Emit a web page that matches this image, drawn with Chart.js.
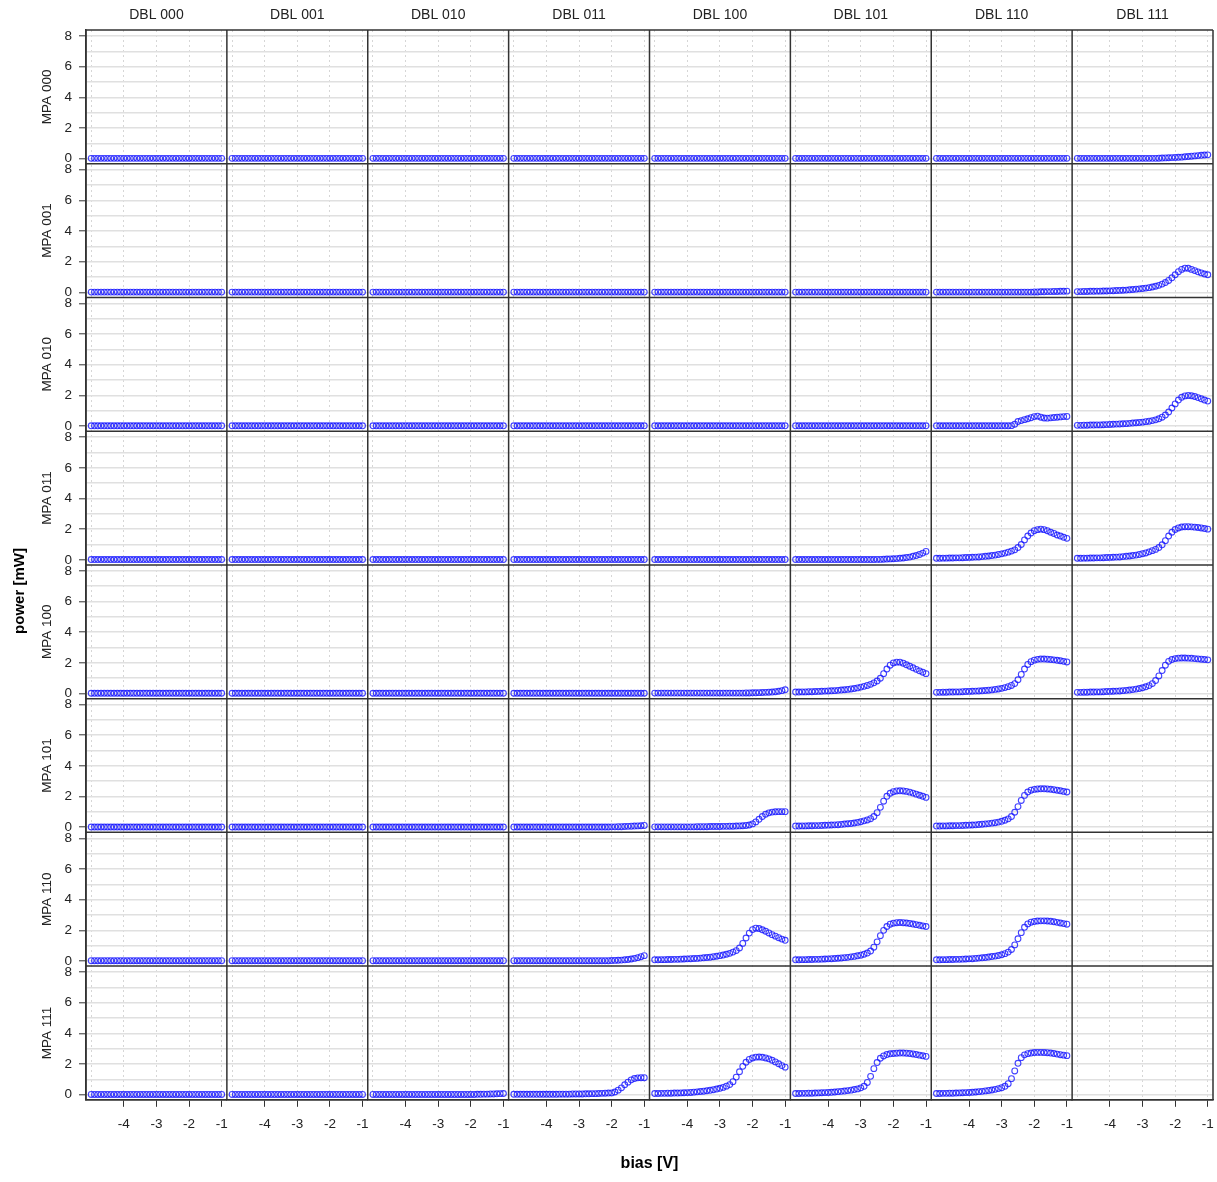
<!DOCTYPE html>
<html>
<head>
<meta charset="utf-8">
<script src="https://cdn.jsdelivr.net/npm/chart.js@4/dist/chart.umd.min.js"></script>
<style>
  html, body { margin: 0; padding: 0; background: #fff; }
</style>
</head>
<body>
<canvas id="lattice" width="1217" height="1182"></canvas>
<script>
var dblLabels = ['DBL 000', 'DBL 001', 'DBL 010', 'DBL 011', 'DBL 100', 'DBL 101', 'DBL 110', 'DBL 111'];
var mpaLabels = ['MPA 000', 'MPA 001', 'MPA 010', 'MPA 011', 'MPA 100', 'MPA 101', 'MPA 110', 'MPA 111'];

var bias = [-5.0, -4.9, -4.8, -4.7, -4.6, -4.5, -4.4, -4.3, -4.2, -4.1,
            -4.0, -3.9, -3.8, -3.7, -3.6, -3.5, -3.4, -3.3, -3.2, -3.1,
            -3.0, -2.9, -2.8, -2.7, -2.6, -2.5, -2.4, -2.3, -2.2, -2.1,
            -2.0, -1.9, -1.8, -1.7, -1.6, -1.5, -1.4, -1.3, -1.2, -1.1,
            -1.0];

var xGridVals = [-5, -4, -3, -2, -1];
var xTickLabels = [-4, -3, -2, -1];
var yGridVals = [0, 1, 2, 3, 4, 5, 6, 7, 8];
var yTickLabels = [0, 2, 4, 6, 8];

// power [mW] per panel, one value per bias step
var flat = [0.02,0.02,0.02,0.02,0.02,0.02,0.02,0.02,0.02,0.02,
            0.02,0.02,0.02,0.02,0.02,0.02,0.02,0.02,0.02,0.02,
            0.02,0.02,0.02,0.02,0.02,0.02,0.02,0.02,0.02,0.02,
            0.02,0.02,0.02,0.02,0.02,0.02,0.02,0.02,0.02,0.02,
            0.02];

var m000_d111 = [0.02,0.02,0.02,0.02,0.02,0.02,0.02,0.02,0.02,0.02,
                 0.02,0.02,0.02,0.02,0.02,0.02,0.02,0.02,0.02,0.02,
                 0.02,0.02,0.02,0.02,0.02,0.03,0.04,0.05,0.06,0.07,
                 0.08,0.09,0.10,0.12,0.14,0.16,0.18,0.20,0.22,0.24,
                 0.25];

var m001_d110 = [0.02,0.02,0.02,0.02,0.02,0.02,0.02,0.02,0.02,0.02,
                 0.02,0.02,0.02,0.02,0.02,0.02,0.02,0.02,0.02,0.02,
                 0.02,0.02,0.02,0.02,0.02,0.02,0.02,0.02,0.02,0.02,
                 0.03,0.03,0.04,0.04,0.05,0.05,0.06,0.06,0.07,0.07,
                 0.08];

var m001_d111 = [0.05,0.05,0.06,0.06,0.07,0.07,0.08,0.08,0.09,0.09,
                 0.10,0.11,0.12,0.13,0.14,0.15,0.17,0.19,0.21,0.23,
                 0.25,0.28,0.31,0.35,0.40,0.46,0.54,0.64,0.78,0.95,
                 1.15,1.35,1.50,1.58,1.57,1.50,1.42,1.34,1.27,1.20,
                 1.15];

var m010_d110 = [0.02,0.02,0.02,0.02,0.02,0.02,0.02,0.02,0.02,0.02,
                 0.02,0.02,0.02,0.02,0.02,0.02,0.02,0.02,0.02,0.02,
                 0.02,0.02,0.02,0.03,0.12,0.30,0.36,0.42,0.48,0.55,
                 0.62,0.65,0.58,0.53,0.52,0.54,0.56,0.58,0.60,0.62,
                 0.63];

var m010_d111 = [0.05,0.05,0.06,0.06,0.07,0.07,0.08,0.08,0.09,0.10,
                 0.11,0.12,0.13,0.14,0.15,0.16,0.18,0.20,0.22,0.24,
                 0.26,0.29,0.32,0.36,0.41,0.48,0.58,0.72,0.92,1.18,
                 1.45,1.70,1.88,1.97,2.00,1.98,1.93,1.86,1.78,1.70,
                 1.63];

var m011_d101 = [0.02,0.02,0.02,0.02,0.02,0.02,0.02,0.02,0.02,0.02,
                 0.02,0.02,0.02,0.02,0.02,0.02,0.02,0.02,0.02,0.02,
                 0.02,0.02,0.02,0.02,0.02,0.03,0.03,0.04,0.05,0.06,
                 0.07,0.08,0.10,0.12,0.15,0.18,0.23,0.28,0.35,0.44,
                 0.55];

var m011_d110 = [0.10,0.10,0.11,0.11,0.12,0.12,0.13,0.13,0.14,0.15,
                 0.16,0.17,0.18,0.19,0.21,0.23,0.25,0.28,0.31,0.35,
                 0.39,0.44,0.50,0.57,0.65,0.80,1.00,1.30,1.55,1.75,
                 1.90,1.97,2.00,1.97,1.90,1.80,1.72,1.62,1.55,1.47,
                 1.40];

var m011_d111 = [0.10,0.10,0.11,0.11,0.12,0.12,0.13,0.13,0.14,0.15,
                 0.16,0.17,0.18,0.19,0.21,0.23,0.25,0.28,0.31,0.35,
                 0.40,0.45,0.52,0.60,0.68,0.80,0.98,1.25,1.55,1.80,
                 1.98,2.08,2.14,2.16,2.16,2.15,2.13,2.11,2.08,2.04,
                 2.00];

var m100_d100 = [0.03,0.03,0.03,0.03,0.03,0.03,0.03,0.03,0.03,0.03,
                 0.03,0.03,0.03,0.03,0.03,0.03,0.03,0.03,0.03,0.03,
                 0.03,0.03,0.03,0.03,0.03,0.03,0.03,0.03,0.04,0.04,
                 0.05,0.05,0.06,0.07,0.08,0.09,0.10,0.12,0.15,0.19,
                 0.25];

var m100_d101 = [0.10,0.10,0.11,0.11,0.12,0.12,0.13,0.14,0.15,0.16,
                 0.17,0.18,0.19,0.21,0.23,0.25,0.27,0.30,0.33,0.37,
                 0.42,0.47,0.53,0.60,0.70,0.82,1.00,1.30,1.60,1.85,
                 2.00,2.05,2.05,1.98,1.88,1.78,1.68,1.58,1.48,1.39,
                 1.30];

var m100_d110 = [0.08,0.08,0.09,0.09,0.10,0.10,0.11,0.11,0.12,0.13,
                 0.14,0.15,0.16,0.17,0.18,0.20,0.22,0.24,0.27,0.30,
                 0.34,0.39,0.45,0.53,0.65,0.90,1.25,1.60,1.90,2.08,
                 2.18,2.23,2.25,2.25,2.24,2.22,2.20,2.17,2.14,2.10,
                 2.06];

var m100_d111 = [0.08,0.08,0.09,0.09,0.10,0.10,0.11,0.11,0.12,0.13,
                 0.14,0.15,0.16,0.17,0.19,0.21,0.23,0.26,0.29,0.33,
                 0.38,0.44,0.52,0.65,0.85,1.15,1.50,1.85,2.10,2.22,
                 2.28,2.31,2.32,2.32,2.31,2.30,2.28,2.26,2.24,2.22,
                 2.20];

var m101_d011 = [0.02,0.02,0.02,0.02,0.02,0.02,0.02,0.02,0.02,0.02,
                 0.02,0.02,0.02,0.02,0.02,0.02,0.02,0.02,0.02,0.02,
                 0.02,0.02,0.02,0.02,0.02,0.02,0.02,0.02,0.02,0.02,
                 0.03,0.03,0.04,0.04,0.05,0.06,0.07,0.08,0.09,0.10,
                 0.12];

var m101_d100 = [0.03,0.03,0.03,0.03,0.03,0.03,0.03,0.03,0.03,0.03,
                 0.03,0.03,0.03,0.04,0.04,0.04,0.04,0.05,0.05,0.05,
                 0.05,0.06,0.06,0.07,0.07,0.08,0.09,0.10,0.12,0.15,
                 0.22,0.35,0.52,0.70,0.85,0.94,0.99,1.01,1.02,1.02,
                 1.02];

var m101_d101 = [0.08,0.08,0.09,0.09,0.10,0.10,0.11,0.11,0.12,0.13,
                 0.14,0.15,0.16,0.17,0.19,0.21,0.23,0.25,0.28,0.32,
                 0.36,0.42,0.48,0.56,0.70,0.95,1.30,1.70,2.02,2.22,
                 2.32,2.37,2.38,2.37,2.34,2.29,2.23,2.16,2.09,2.02,
                 1.95];

var m101_d110 = [0.08,0.08,0.09,0.09,0.10,0.10,0.11,0.11,0.12,0.13,
                 0.14,0.15,0.16,0.18,0.20,0.22,0.24,0.27,0.30,0.34,
                 0.39,0.46,0.55,0.70,0.98,1.35,1.75,2.08,2.30,2.42,
                 2.47,2.50,2.51,2.51,2.50,2.48,2.45,2.42,2.38,2.34,
                 2.30];

var m110_d011 = [0.02,0.02,0.02,0.02,0.02,0.02,0.02,0.02,0.02,0.02,
                 0.02,0.02,0.02,0.02,0.02,0.02,0.02,0.02,0.02,0.02,
                 0.02,0.02,0.02,0.02,0.02,0.02,0.02,0.02,0.02,0.02,
                 0.03,0.04,0.05,0.06,0.08,0.10,0.13,0.17,0.22,0.28,
                 0.35];

var m110_d100 = [0.08,0.08,0.09,0.09,0.10,0.10,0.11,0.11,0.12,0.13,
                 0.14,0.15,0.16,0.17,0.19,0.21,0.23,0.25,0.28,0.31,
                 0.35,0.39,0.44,0.50,0.58,0.68,0.85,1.15,1.50,1.82,
                 2.05,2.14,2.12,2.04,1.94,1.83,1.72,1.62,1.52,1.43,
                 1.35];

var m110_d101 = [0.08,0.08,0.09,0.09,0.10,0.10,0.11,0.11,0.12,0.13,
                 0.14,0.15,0.16,0.18,0.20,0.22,0.24,0.27,0.30,0.34,
                 0.38,0.44,0.52,0.65,0.90,1.25,1.65,2.00,2.25,2.40,
                 2.47,2.50,2.51,2.50,2.48,2.45,2.41,2.37,2.33,2.29,
                 2.25];

var m110_d110 = [0.08,0.08,0.09,0.09,0.10,0.10,0.11,0.11,0.12,0.13,
                 0.14,0.15,0.17,0.19,0.21,0.23,0.26,0.29,0.32,0.36,
                 0.41,0.48,0.58,0.75,1.05,1.45,1.85,2.20,2.42,2.53,
                 2.58,2.61,2.62,2.62,2.61,2.59,2.56,2.52,2.48,2.44,
                 2.40];

var m111_d010 = [0.02,0.02,0.02,0.02,0.02,0.02,0.02,0.02,0.02,0.02,
                 0.02,0.02,0.02,0.02,0.02,0.02,0.02,0.02,0.02,0.02,
                 0.02,0.02,0.02,0.02,0.02,0.02,0.02,0.02,0.02,0.02,
                 0.02,0.02,0.03,0.03,0.04,0.04,0.05,0.05,0.06,0.07,
                 0.08];

var m111_d011 = [0.03,0.03,0.03,0.03,0.03,0.03,0.03,0.03,0.03,0.03,
                 0.03,0.03,0.03,0.03,0.04,0.04,0.04,0.04,0.05,0.05,
                 0.05,0.05,0.06,0.06,0.07,0.07,0.08,0.09,0.10,0.11,
                 0.12,0.18,0.30,0.45,0.65,0.82,0.97,1.06,1.10,1.11,
                 1.11];

var m111_d100 = [0.08,0.08,0.09,0.09,0.10,0.10,0.11,0.11,0.12,0.13,
                 0.14,0.15,0.17,0.19,0.21,0.23,0.26,0.29,0.33,0.37,
                 0.42,0.48,0.56,0.66,0.85,1.15,1.50,1.85,2.12,2.30,
                 2.40,2.45,2.46,2.44,2.40,2.34,2.25,2.14,2.02,1.90,
                 1.80];

var m111_d101 = [0.08,0.08,0.09,0.09,0.10,0.10,0.11,0.12,0.13,0.14,
                 0.15,0.16,0.18,0.20,0.22,0.24,0.27,0.30,0.34,0.38,
                 0.45,0.55,0.80,1.20,1.70,2.10,2.38,2.53,2.62,2.67,
                 2.69,2.71,2.72,2.72,2.71,2.69,2.66,2.62,2.58,2.54,
                 2.50];

var m111_d110 = [0.08,0.08,0.09,0.09,0.10,0.10,0.11,0.12,0.13,0.14,
                 0.15,0.16,0.18,0.20,0.22,0.25,0.28,0.31,0.35,0.40,
                 0.46,0.55,0.72,1.05,1.55,2.05,2.42,2.60,2.68,2.72,
                 2.75,2.76,2.76,2.75,2.74,2.72,2.69,2.65,2.61,2.58,
                 2.55];

// rows = MPA, columns = DBL; null = no measurement
var panels = [
  [flat, flat, flat, flat, flat, flat, flat, m000_d111],
  [flat, flat, flat, flat, flat, flat, m001_d110, m001_d111],
  [flat, flat, flat, flat, flat, flat, m010_d110, m010_d111],
  [flat, flat, flat, flat, flat, m011_d101, m011_d110, m011_d111],
  [flat, flat, flat, flat, m100_d100, m100_d101, m100_d110, m100_d111],
  [flat, flat, flat, m101_d011, m101_d100, m101_d101, m101_d110, null],
  [flat, flat, flat, m110_d011, m110_d100, m110_d101, m110_d110, null],
  [flat, flat, m111_d010, m111_d011, m111_d100, m111_d101, m111_d110, null]
];

var FONT = "'Liberation Sans', Arial, Helvetica, sans-serif";
var tickFont = { family: FONT, size: 13.5 };
var textColor = '#222';
var frameColor = '#333';

var scales = {};
dblLabels.forEach(function (name, c) {
  scales['x' + c] = {
    type: 'linear', position: 'bottom', stack: 'cols', weight: c,
    min: -5.16, max: -0.84,
    afterBuildTicks: function (s) { s.ticks = xGridVals.map(function (v) { return { value: v }; }); },
    afterFit: function (s) { s.height = 54; s.paddingLeft = 0; s.paddingRight = 0; },
    ticks: {
      autoSkip: false, maxRotation: 0, padding: 9, color: textColor, font: tickFont,
      callback: function (v) { return xTickLabels.indexOf(v) >= 0 ? String(v) : ''; }
    },
    grid: {
      color: '#d6d6d6', lineWidth: 1, tickLength: 7, tickWidth: 1,
      tickColor: function (ctx) { return ctx.tick && xTickLabels.indexOf(ctx.tick.value) >= 0 ? frameColor : 'rgba(0,0,0,0)'; }
    },
    border: { display: true, color: frameColor, width: 1.5, dash: [2, 3] }
  };
  scales['t' + c] = {
    type: 'linear', position: 'top', axis: 'x', stack: 'strips', weight: 7 - c,
    afterFit: function (s) { s.height = 30; s.paddingLeft = 0; s.paddingRight = 0; },
    ticks: { display: false },
    grid: { display: false, drawTicks: false },
    border: { display: false },
    title: { display: true, text: name, color: textColor, font: { family: FONT, size: 14 }, padding: { top: 6.6, bottom: 0 } }
  };
});

mpaLabels.forEach(function (name, r) {
  scales['y' + r] = {
    type: 'linear', position: 'left', stack: 'rows', weight: 8 - r,
    min: -0.33, max: 8.39,
    afterBuildTicks: function (s) { s.ticks = yGridVals.map(function (v) { return { value: v }; }); },
    afterFit: function (s) { s.width = 57; s.paddingTop = 0; s.paddingBottom = 0; },
    ticks: {
      autoSkip: false, padding: 7, color: textColor, font: tickFont,
      callback: function (v) { return yTickLabels.indexOf(v) >= 0 ? String(v) : ''; }
    },
    grid: {
      color: '#e0e0e0', lineWidth: 1.6, tickLength: 7, tickWidth: 1,
      tickColor: function (ctx) { return ctx.tick && yTickLabels.indexOf(ctx.tick.value) >= 0 ? frameColor : 'rgba(0,0,0,0)'; }
    },
    border: { display: true, color: frameColor, width: 1.5 },
    title: { display: true, text: name, color: textColor, font: { family: FONT, size: 13.5 }, padding: { top: 10, bottom: 0 } }
  };
});

var datasets = [];
panels.forEach(function (row, r) {
  row.forEach(function (vals, c) {
    if (!vals) return;
    datasets.push({
      label: mpaLabels[r] + ' / ' + dblLabels[c],
      data: bias.map(function (b, i) { return { x: b, y: vals[i] }; }),
      xAxisID: 'x' + c,
      yAxisID: 'y' + r,
      showLine: false,
      borderColor: 'rgba(20,20,255,0.8)',
      backgroundColor: 'rgba(0,0,0,0)',
      pointRadius: 2.9,
      pointBorderWidth: 1.1,
      pointHoverRadius: 2.9
    });
  });
});

// black frame round every panel, taken from the stacked scales
var panelFrame = {
  id: 'panelFrame',
  afterDatasetsDraw: function (chart) {
    var ctx = chart.ctx, area = chart.chartArea;
    ctx.save();
    ctx.strokeStyle = frameColor;
    ctx.lineWidth = 1.5;
    ctx.beginPath();
    dblLabels.forEach(function (n, c) {
      var s = chart.scales['x' + c];
      ctx.moveTo(s.left, area.top); ctx.lineTo(s.left, area.bottom);
      ctx.moveTo(s.right, area.top); ctx.lineTo(s.right, area.bottom);
    });
    mpaLabels.forEach(function (n, r) {
      var s = chart.scales['y' + r];
      ctx.moveTo(area.left, s.top); ctx.lineTo(area.right, s.top);
      ctx.moveTo(area.left, s.bottom); ctx.lineTo(area.right, s.bottom);
    });
    ctx.stroke();
    ctx.restore();
  }
};

new Chart(document.getElementById('lattice').getContext('2d'), {
  type: 'scatter',
  data: { datasets: datasets },
  options: {
    responsive: false,
    animation: false,
    devicePixelRatio: 1,
    events: [],
    layout: { padding: { left: 0, right: 3, top: 0, bottom: 0 } },
    scales: scales,
    plugins: {
      legend: { display: false },
      tooltip: { enabled: false },
      title: {
        display: true, position: 'left', text: 'power [mW]', color: '#000',
        font: { family: FONT, size: 15, weight: 'bold' },
        padding: { top: 11, bottom: 0 }
      },
      subtitle: {
        display: true, position: 'bottom', fullSize: false, text: 'bias [V]', color: '#000',
        font: { family: FONT, size: 16, weight: 'bold' },
        padding: { top: 0, bottom: 9 }
      }
    }
  },
  plugins: [panelFrame]
});
</script>
</body>
</html>
